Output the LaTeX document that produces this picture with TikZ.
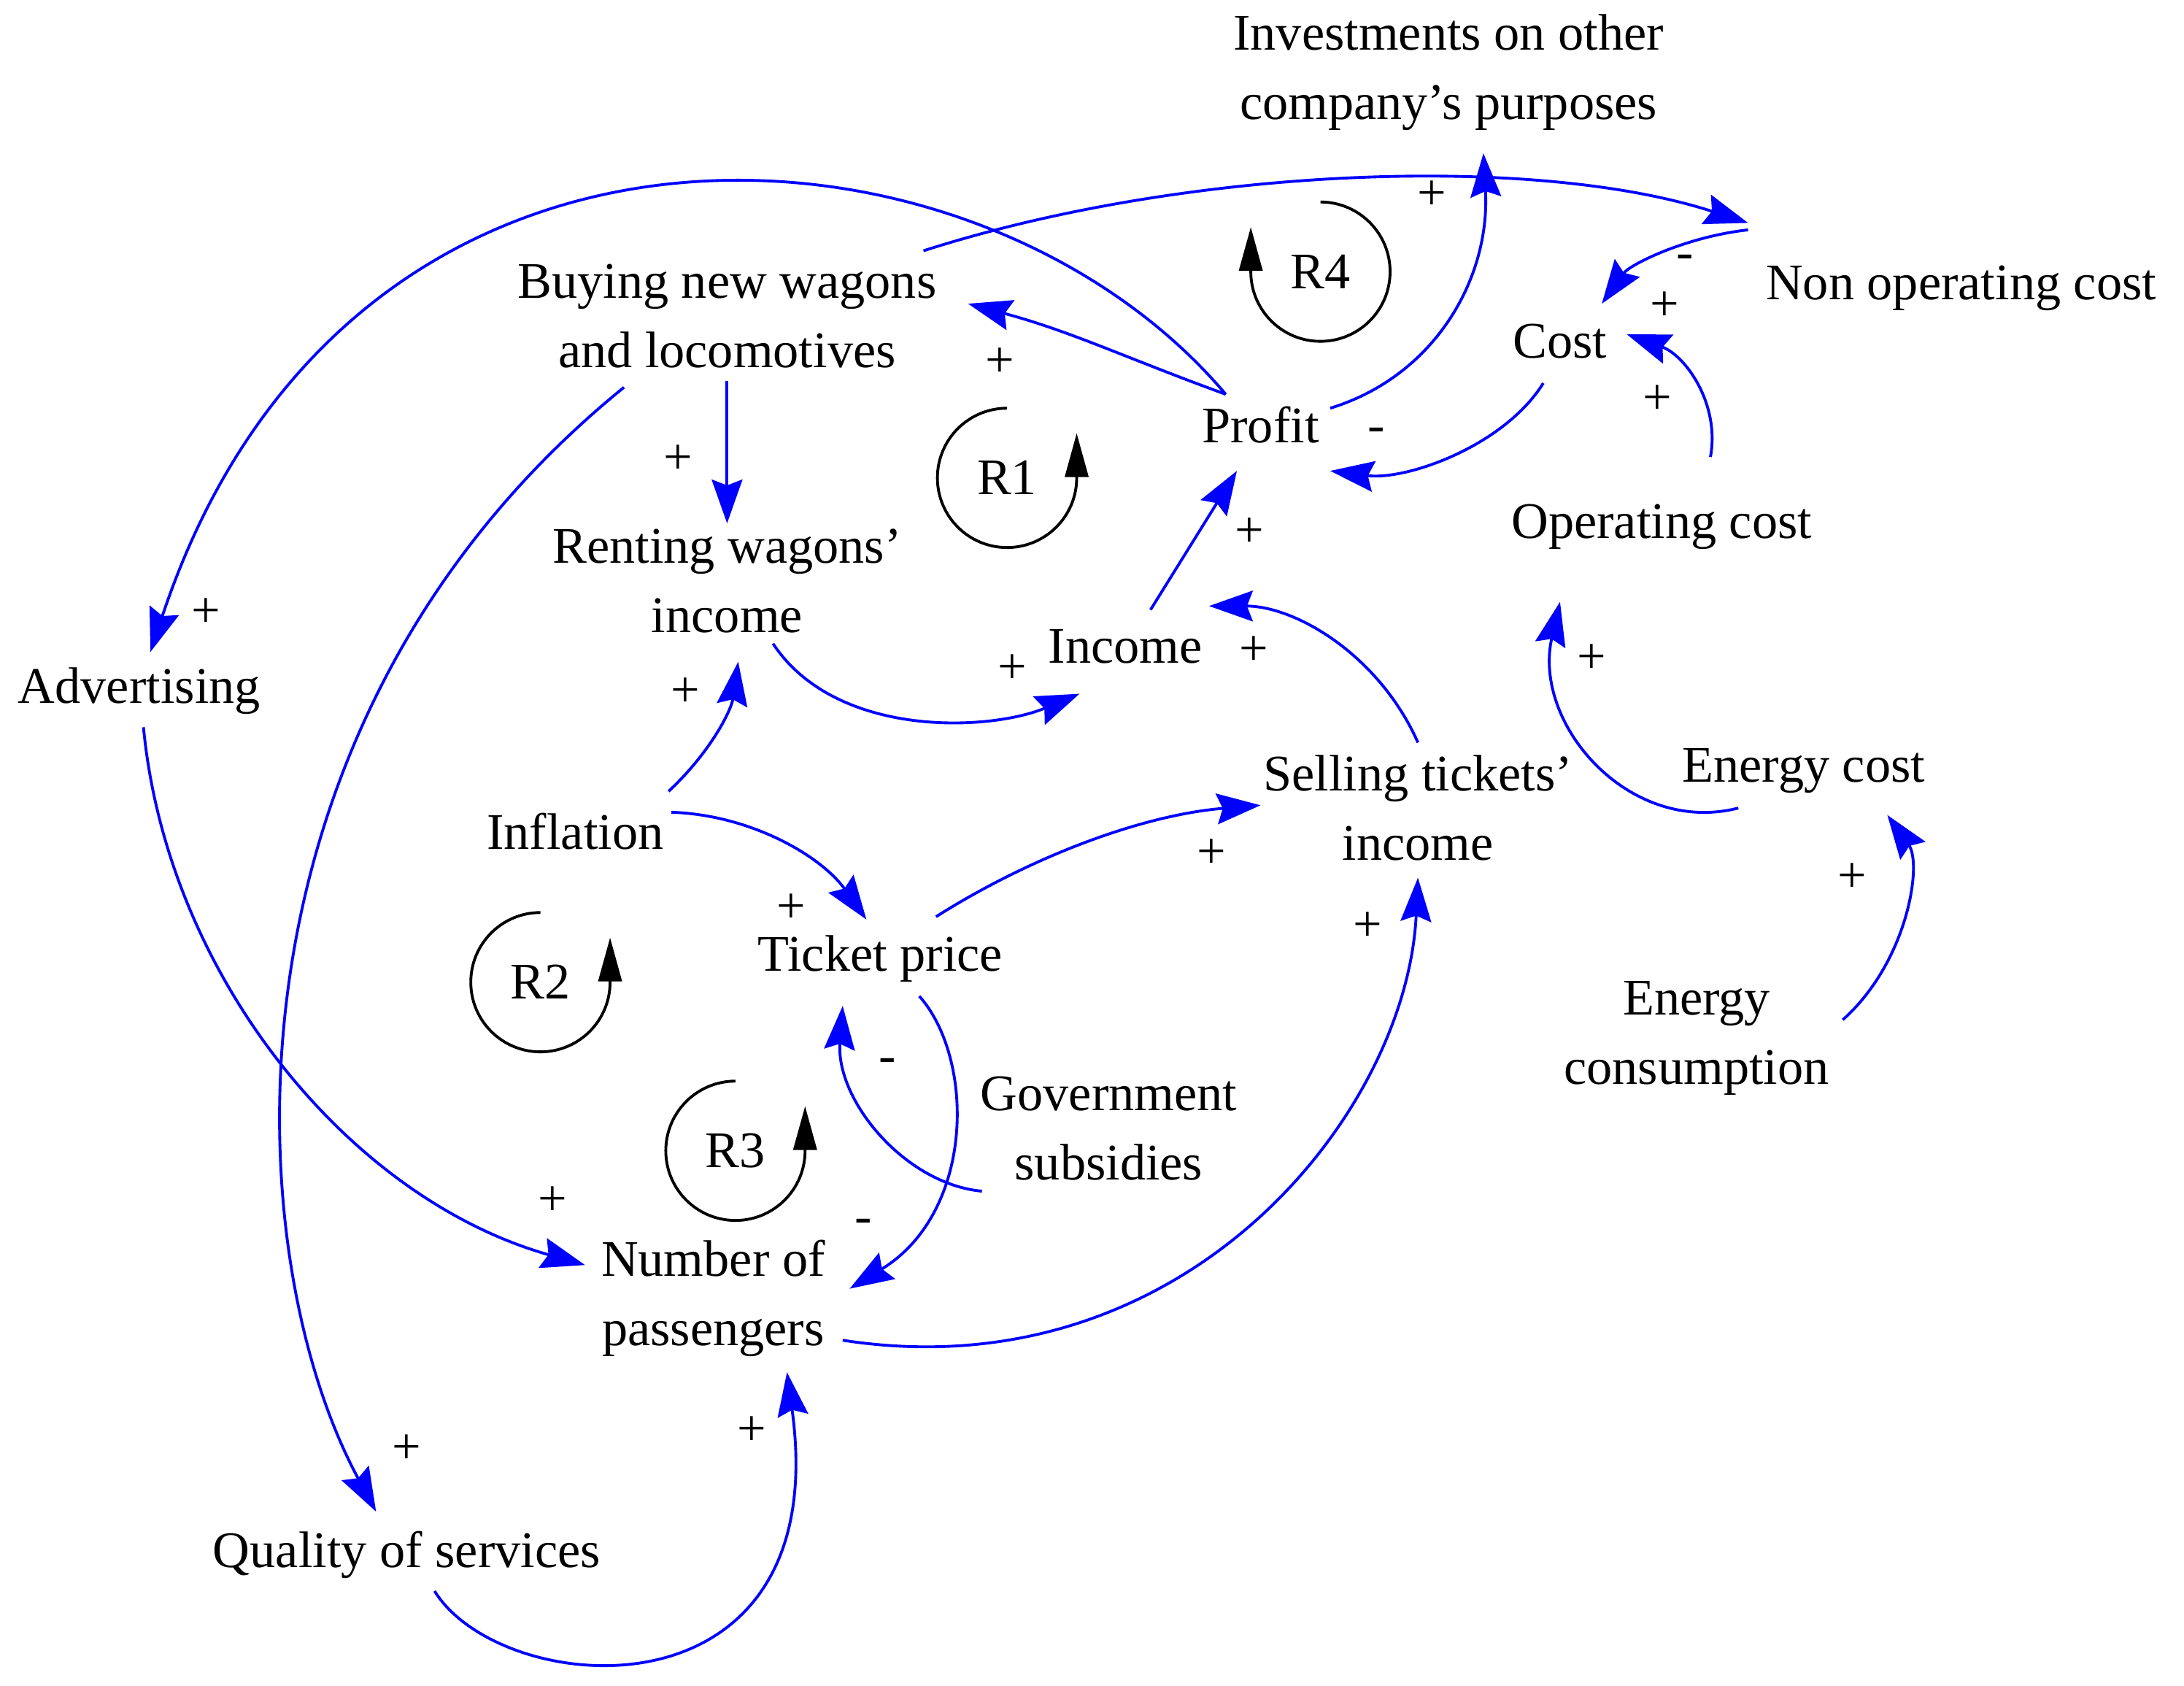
\documentclass[tikz,border=0pt]{standalone}
\usepackage{fontspec}
\setmainfont{Liberation Serif}
\usetikzlibrary{arrows.meta}
\begin{document}
\begin{tikzpicture}[x=0.01909cm,y=-0.01909cm,
  lbl/.style={font=\fontsize{20}{27}\selectfont,align=center,inner sep=2pt},
  sg/.style={font=\fontsize{20}{20}\selectfont,inner sep=0pt},
  link/.style={draw=blue,line width=1.1pt,-{Stealth[length=0.6cm,width=0.42cm,inset=0.08cm,fill=blue]}},
  loop/.style={draw=black,line width=1.1pt,-{Triangle[length=0.6cm,width=0.32cm,fill=black]}}]
\useasboundingbox (0,0) rectangle (1568,1210);
\node[lbl] (inv) at (1040,52) {Investments on other\\company's purposes};
\node[lbl] (nonop) at (1408,207) {Non operating cost};
\node[lbl] (buy) at (522,227) {Buying new wagons\\and locomotives};
\node[lbl] (cost) at (1120,245) {Cost};
\node[lbl] (profit) at (905,305) {Profit};
\node[lbl] (rent) at (522,417) {Renting wagons'\\income};
\node[lbl] (opc) at (1193,378) {Operating cost};
\node[lbl] (inc) at (808,464) {Income};
\node[lbl] (adv) at (100,496) {Advertising};
\node[lbl] (sell) at (1018,580) {Selling tickets'\\income};
\node[lbl] (enc) at (1295,553) {Energy cost};
\node[lbl] (infl) at (413,597) {Inflation};
\node[lbl] (tp) at (632,688) {Ticket price};
\node[lbl] (ecn) at (1218,745) {Energy\\consumption};
\node[lbl] (gov) at (796,810) {Government\\subsidies};
\node[lbl] (np) at (512,932) {Number of\\passengers};
\node[lbl] (qs) at (292,1116) {Quality of services};
% loops
\node[lbl] (r4) at (948,195) {R4};
\node[lbl] (r1) at (723,343) {R1};
\node[lbl] (r2) at (388,705) {R2};
\node[lbl] (r3) at (528,826) {R3};
\draw[loop] (r4.center) ++(270:50) arc (270:540:50) -- ++(0,-32);
\draw[loop] (r1.center) ++(270:50) arc (270:0:50) -- ++(0,-32);
\draw[loop] (r2.center) ++(270:50) arc (270:0:50) -- ++(0,-32);
\draw[loop] (r3.center) ++(270:50) arc (270:0:50) -- ++(0,-32);
% links
\coordinate (p1) at (880,283); \coordinate (p2) at (955,293);
\draw[link] (p1) to[out=160,in=-15] (695,218);
\draw[link] (p1) .. controls (700,70) and (250,40) .. (108,468);
\draw[link] (663,180) .. controls (850,120) and (1100,110) .. (1255,160);
\draw[link] (p2) .. controls (1030,270) and (1070,200) .. (1065,110);
\draw[link] (1255,165) .. controls (1210,170) and (1170,190) .. (1150,218);
\draw[link] (1108,275) .. controls (1080,320) and (1010,345) .. (955,338);
\draw[link] (1228,328) .. controls (1235,290) and (1210,255) .. (1168,240);
\draw[link] (buy.south) ++(0,5) -- (rent.north);
\draw[link] (448,278) .. controls (150,520) and (170,900) .. (270,1085);
\draw[link] (555,462) .. controls (600,530) and (710,525) .. (775,498);
\draw[link] (inc.north) ++(18,-10) -- (888,338);
\draw[link] (1018,533) .. controls (990,470) and (930,435) .. (868,435);
\draw[link] (480,568) .. controls (510,540) and (525,510) .. (530,475);
\draw[link] (482,583) .. controls (540,585) and (590,615) .. (622,660);
\draw[link] (672,658) .. controls (740,615) and (820,585) .. (905,578);
\draw[link] (660,715) .. controls (700,760) and (700,870) .. (610,925);
\draw[link] (705,855) .. controls (650,850) and (600,790) .. (605,722);
\draw[link] (103,522) .. controls (120,700) and (250,860) .. (420,908);
\draw[link] (605,962) .. controls (850,1000) and (1010,800) .. (1018,630);
\draw[link] (312,1142) .. controls (360,1220) and (600,1240) .. (565,985);
\draw[link] (1248,580) .. controls (1170,600) and (1100,520) .. (1120,432);
\draw[link] (1323,732) .. controls (1370,690) and (1380,620) .. (1355,585);
% signs
\node[sg] (s1) at (718,260) {+};
\node[sg] (s2) at (148,440) {+};
\node[sg] (s3) at (1028,140) {+};
\node[sg] (s4) at (1210,188) {-};
\node[sg] (s5) at (1195,220) {+};
\node[sg] (s6) at (988,312) {-};
\node[sg] (s7) at (1190,287) {+};
\node[sg] (s8) at (487,330) {+};
\node[sg] (s9) at (292,1040) {+};
\node[sg] (s10) at (727,480) {+};
\node[sg] (s11) at (897,382) {+};
\node[sg] (s12) at (900,467) {+};
\node[sg] (s13) at (492,497) {+};
\node[sg] (s14) at (568,652) {+};
\node[sg] (s15) at (870,613) {+};
\node[sg] (s16) at (620,880) {-};
\node[sg] (s17) at (637,765) {-};
\node[sg] (s18) at (397,862) {+};
\node[sg] (s19) at (982,665) {+};
\node[sg] (s20) at (540,1027) {+};
\node[sg] (s21) at (1143,473) {+};
\node[sg] (s22) at (1330,630) {+};
\end{tikzpicture}
\end{document}
